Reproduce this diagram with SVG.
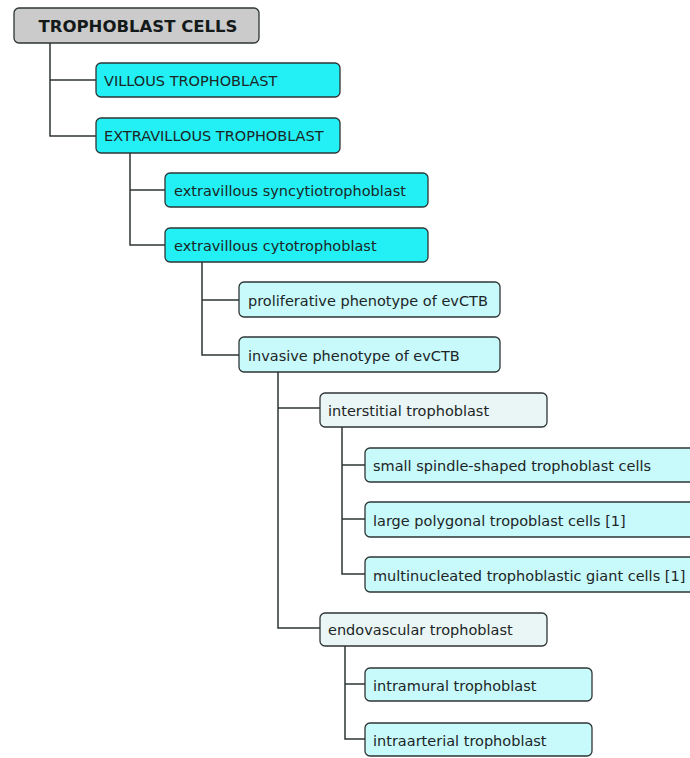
<svg xmlns="http://www.w3.org/2000/svg" width="690" height="758" viewBox="0 0 690 758">
<style>
.box{stroke:#2e3535;stroke-width:1.3}
.root{fill:#cbcbcb}
.c1{fill:#22f0f4}
.c2{fill:#c8f9fb}
.c3{fill:#eaf5f5}
text{font-family:"DejaVu Sans","Verdana",sans-serif;font-size:14.5px;fill:#1c2626}
.rt{font-weight:bold;font-size:16.5px;text-anchor:middle;fill:#141a1a}
.conn{fill:none;stroke:#2e3535;stroke-width:1.5}
</style>
<rect width="690" height="758" fill="#ffffff"/>
<g id="connectors">
<path class="conn" d="M50 43 V136 H96 M50 80 H96"/>
<path class="conn" d="M130 153 V245 H165 M130 190 H165"/>
<path class="conn" d="M202 262 V355 H239 M202 300 H239"/>
<path class="conn" d="M278 372 V628 H320 M278 408 H320"/>
<path class="conn" d="M342 427 V574 H365 M342 465 H365 M342 519 H365"/>
<path class="conn" d="M345 646 V739 H365 M345 684 H365"/>
</g>
<g id="n-root"><rect class="box root" x="14" y="8" width="245" height="35" rx="5"/><text class="rt" x="138" y="32">TROPHOBLAST CELLS</text></g>
<g id="n-villous"><rect class="box c1" x="96" y="63" width="244" height="34" rx="5"/><text x="104" y="86">VILLOUS TROPHOBLAST</text></g>
<g id="n-extravillous"><rect class="box c1" x="96" y="118" width="244" height="35" rx="5"/><text x="104" y="141">EXTRAVILLOUS TROPHOBLAST</text></g>
<g id="n-syncytio"><rect class="box c1" x="165" y="173" width="263" height="34" rx="5"/><text x="174" y="196">extravillous syncytiotrophoblast</text></g>
<g id="n-cyto"><rect class="box c1" x="165" y="228" width="263" height="34" rx="5"/><text x="174" y="251">extravillous cytotrophoblast</text></g>
<g id="n-prolif"><rect class="box c2" x="239" y="282" width="261" height="35" rx="5"/><text x="248" y="306">proliferative phenotype of evCTB</text></g>
<g id="n-invasive"><rect class="box c2" x="239" y="337" width="261" height="35" rx="5"/><text x="248" y="361">invasive phenotype of evCTB</text></g>
<g id="n-interstitial"><rect class="box c3" x="320" y="393" width="227" height="34" rx="5"/><text x="328" y="416">interstitial trophoblast</text></g>
<g id="n-spindle"><rect class="box c2" x="365" y="448" width="340" height="34" rx="5"/><text x="373" y="471">small spindle-shaped trophoblast cells</text></g>
<g id="n-polygonal"><rect class="box c2" x="365" y="502" width="340" height="35" rx="5"/><text x="373" y="526">large polygonal tropoblast cells [1]</text></g>
<g id="n-giant"><rect class="box c2" x="365" y="557" width="340" height="35" rx="5"/><text x="373" y="581">multinucleated trophoblastic giant cells [1]</text></g>
<g id="n-endovascular"><rect class="box c3" x="320" y="613" width="227" height="33" rx="5"/><text x="328" y="635">endovascular trophoblast</text></g>
<g id="n-intramural"><rect class="box c2" x="365" y="668" width="227" height="33" rx="5"/><text x="373" y="691">intramural trophoblast</text></g>
<g id="n-intraarterial"><rect class="box c2" x="365" y="723" width="227" height="33" rx="5"/><text x="373" y="746">intraarterial trophoblast</text></g>
</svg>
